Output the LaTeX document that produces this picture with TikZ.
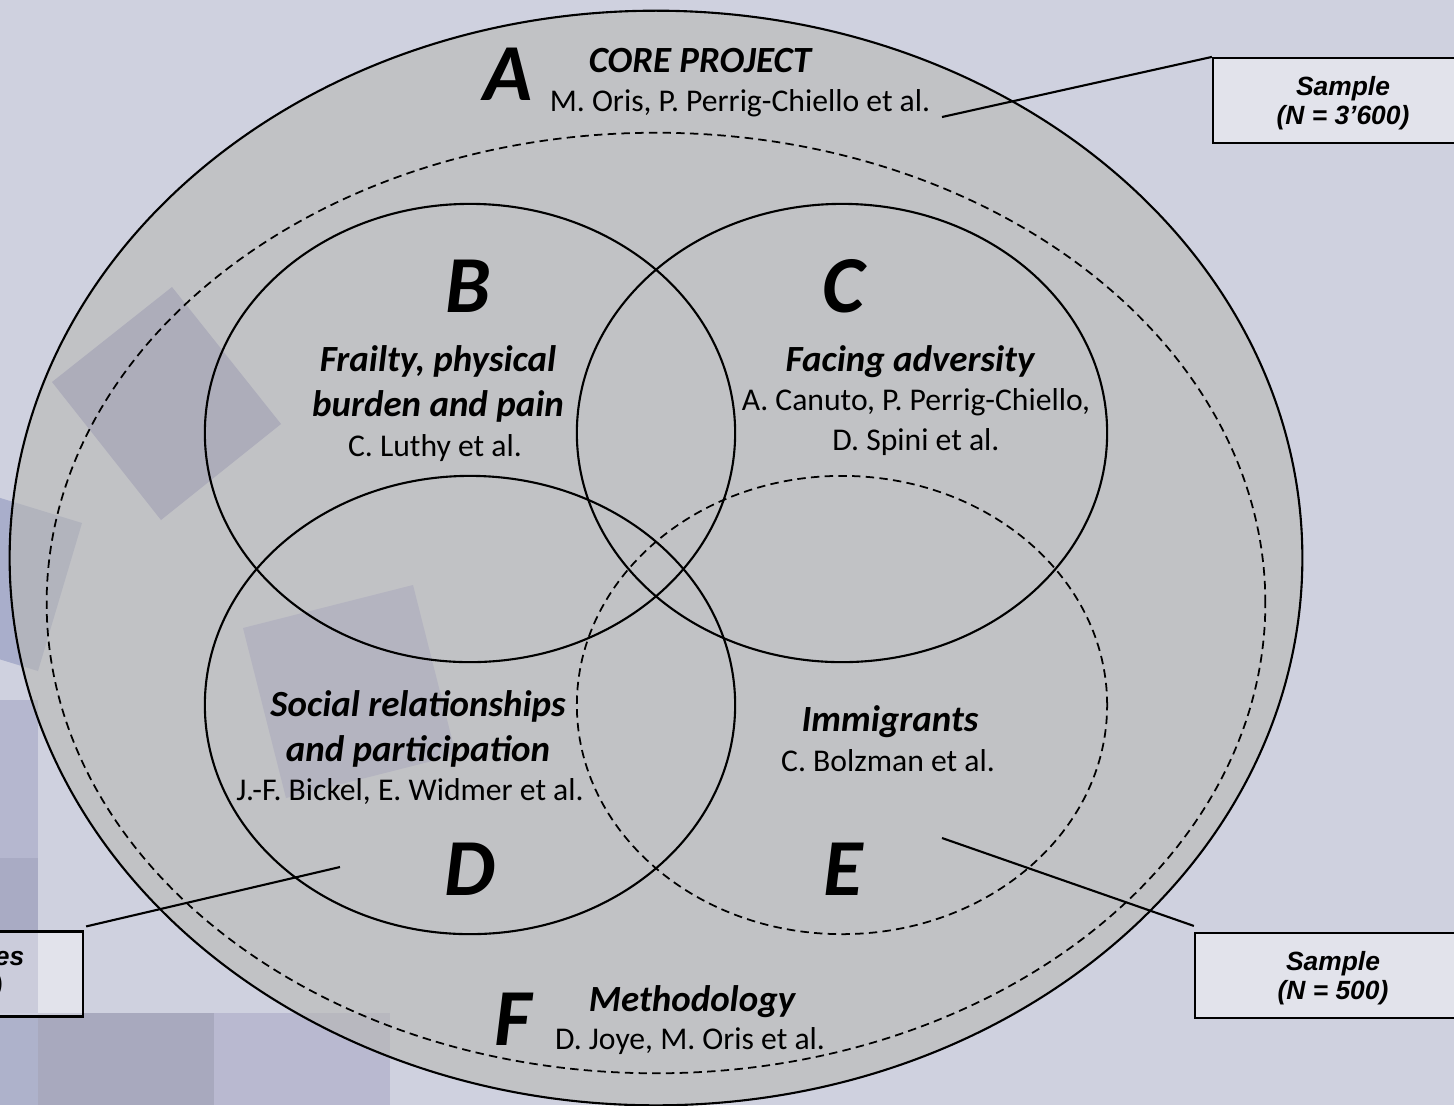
\documentclass[tikz,border=0pt]{standalone}
\usepackage{fontspec}
\setmainfont{Carlito}
\newfontfamily\arialfont{Liberation Sans}
\usetikzlibrary{positioning,shapes.geometric}

\definecolor{bgcol}{RGB}{207,209,223}
\definecolor{ringfill}{RGB}{184,184,181}
\definecolor{blockA}{RGB}{181,183,207}
\definecolor{blockB}{RGB}{169,171,196}
\definecolor{blockC}{RGB}{174,178,203}
\definecolor{blockD}{RGB}{168,169,190}
\definecolor{blockE}{RGB}{185,185,208}
\definecolor{tiltA}{RGB}{157,157,194}
\definecolor{tiltB}{RGB}{169,174,203}
\definecolor{tiltC}{RGB}{174,174,209}

\begin{document}
\begin{tikzpicture}[x=0.01cm,y=-0.01cm]
\tikzstyle{ring}=[ellipse, draw, line width=0.6pt, inner sep=0pt, outer sep=0pt]
\tikzstyle{venn}=[ring, minimum width=5.3cm, minimum height=4.58cm]
\tikzstyle{dashring}=[ring, line width=0.5pt, dash pattern=on 2.4pt off 1.5pt]
\tikzstyle{letter}=[inner sep=0pt, anchor=base, font=\fontsize{23}{23}\selectfont\bfseries\itshape]
\tikzstyle{title}=[inner sep=0pt, anchor=base, font=\fontsize{10.5}{12.8}\selectfont\bfseries\itshape]
\tikzstyle{authors}=[inner sep=0pt, anchor=base, font=\fontsize{9}{11.4}\selectfont]
\tikzstyle{samplebox}=[draw, line width=0.6pt, fill=white, fill opacity=0.4, text opacity=1, align=center, inner sep=0pt, minimum height=0.85cm, font=\arialfont\fontsize{7.5}{8.3}\selectfont\bfseries\itshape]
\tikzstyle{leader}=[line width=0.6pt]

\useasboundingbox (0,0) rectangle (1454,1105);
\clip (0,0) rectangle (1454,1105);
\fill[bgcol] (0,0) rectangle (1454,1105);

% background blocks
\fill[blockA] (0,700) rectangle (38,858);
\fill[blockB] (0,858) rectangle (38,1013);
\fill[blockC] (0,1013) rectangle (38,1105);
\fill[blockD] (38,1013) rectangle (214,1105);
\fill[blockE] (214,1013) rectangle (390,1105);
\fill[tiltA] (52,382) -- (172,287) -- (281,424) -- (161,520) -- cycle;
\fill[tiltB] (-65,478) -- (82,523) -- (38,671) -- (-109,626) -- cycle;
\fill[tiltC] (243,628) -- (413,585) -- (456,755) -- (286,798) -- cycle;

% rings
\node[ring, fill=ringfill, fill opacity=0.6, minimum width=12.92cm, minimum height=10.94cm] (core) at (656,558) {};
\node[dashring, minimum width=12.18cm, minimum height=9.4cm] (method) at (656,603) {};
\node[venn] (frailty) at (470,433) {};
\node[venn] (adversity) at (842,433) {};
\node[venn] (social) at (470,705) {};
\node[venn, dashring, minimum width=5.3cm, minimum height=4.58cm] (immig) at (842,705) {};

% A
\node[letter] (letA) at (508,100) {A};
\node[title] (titleA) at (700,72) {CORE PROJECT};
\node[authors] (authA) at (740,111) {M. Oris, P. Perrig-Chiello et al.};
% B
\node[letter] (letB) at (468,312) {B};
\node[title] (titleB1) at (438,371) {Frailty, physical};
\node[title] (titleB2) at (438,416) {burden and pain};
\node[authors] (authB) at (435,456) {C. Luthy et al.};
% C
\node[letter] (letC) at (843,312) {C};
\node[title] (titleC) at (910,371) {Facing adversity};
\node[authors] (authC1) at (916,410) {A. Canuto, P. Perrig-Chiello,};
\node[authors] (authC2) at (916,450) {D. Spini et al.};
% D
\node[title] (titleD1) at (418,716) {Social relationships};
\node[title] (titleD2) at (418,761) {and participation};
\node[authors] (authD) at (410,800) {J.-F. Bickel, E. Widmer et al.};
\node[letter] (letD) at (470,895) {D};
% E
\node[title] (titleE) at (890,731) {Immigrants};
\node[authors] (authE) at (888,771) {C. Bolzman et al.};
\node[letter] (letE) at (843,895) {E};
% F
\node[letter] (letF) at (513,1045) {F};
\node[title] (titleF) at (692,1011) {Methodology};
\node[authors] (authF) at (690,1049) {D. Joye, M. Oris et al.};

% sample boxes
\node[samplebox, minimum width=2.6cm] (sampleA) at (1343,100.5) {};
\node[samplebox, minimum width=2.76cm] (sampleE) at (1333,975.5) {};
\node[samplebox, minimum width=2.6cm] (sampleD) at (-47,974) {};
\node[samplebox, draw=none, fill=none] (textA) at (1343,103) {Sample\\(N = 3’600)};
\node[samplebox, draw=none, fill=none] (textE) at (1333,978) {Sample\\(N = 500)};
\node[inner sep=0pt, anchor=east, font=\arialfont\fontsize{7.5}{8.3}\selectfont\bfseries\itshape] (esD) at (25,959) {es};
\node[inner sep=0pt, anchor=east, font=\arialfont\fontsize{7.5}{8.3}\selectfont\bfseries\itshape] (parD) at (3,988) {)};

% leaders
\coordinate (endA) at (942,117);
\coordinate (endE) at (942,838);
\coordinate (endD) at (340,867);
\draw[leader] (sampleA.north west) -- (endA);
\draw[leader] (sampleE.north west) ++(0,-6) -- (endE);
\draw[leader] (sampleD.north east) ++(2,-4) -- (endD);
\end{tikzpicture}
\end{document}
